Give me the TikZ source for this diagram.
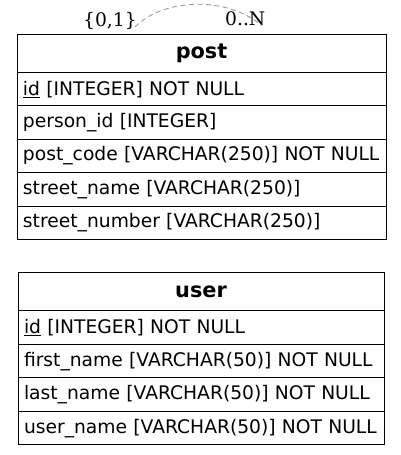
\documentclass[tikz,border=0pt]{standalone}
\usepackage{fontspec}
\usepackage{xcolor}
\usepackage{tikz}
\usetikzlibrary{positioning}
\newfontfamily\tablefont{DejaVu Sans}
\newfontfamily\cardfont{DejaVu Serif}
\definecolor{loop_gray}{HTML}{9a9a9a}

\begin{document}
\begin{tikzpicture}[x=1pt, y=1pt,
    every node/.style={font=\tablefont\fontsize{18.7}{22}\selectfont},
    tablehead/.style={draw, line width=1pt, outer sep=0pt, inner sep=0pt,
      minimum height=37.5pt, anchor=north west, font=\tablefont\bfseries\fontsize{20.8}{24}\selectfont},
    tablerow/.style={draw, line width=1pt, outer sep=0pt, inner xsep=6pt, inner ysep=0pt,
      minimum height=33.4pt, align=left},
    card/.style={anchor=base west, inner sep=0pt, font=\cardfont\fontsize{18.7}{22}\selectfont}]

    \useasboundingbox (0,0) rectangle (401,455);

    % table post
    \node[tablehead, minimum width=369pt] (post) at (17,420) {post};
    \node[tablerow, text width=357pt, below=0pt of post] (post-id) {\underline{id} [INTEGER] NOT NULL};
    \node[tablerow, text width=357pt, below=0pt of post-id] (post-person) {person\_id [INTEGER]};
    \node[tablerow, text width=357pt, below=0pt of post-person] (post-code) {post\_code [VARCHAR(250)] NOT NULL};
    \node[tablerow, text width=357pt, below=0pt of post-code] (post-street) {street\_name [VARCHAR(250)]};
    \node[tablerow, text width=357pt, below=0pt of post-street] (post-number) {street\_number [VARCHAR(250)]};

    % table user
    \node[tablehead, minimum width=366pt, minimum height=38pt] (user) at (18,182) {user};
    \node[tablerow, text width=354pt, minimum height=33.5pt, below=0pt of user] (user-id) {\underline{id} [INTEGER] NOT NULL};
    \node[tablerow, text width=354pt, minimum height=33.5pt, below=0pt of user-id] (user-first) {first\_name [VARCHAR(50)]\ NOT NULL};
    \node[tablerow, text width=354pt, minimum height=33.5pt, below=0pt of user-first] (user-last) {last\_name [VARCHAR(50)]\ NOT NULL};
    \node[tablerow, text width=354pt, minimum height=33.5pt, below=0pt of user-last] (user-name) {user\_name [VARCHAR(50)]\ NOT NULL};

    % self relation on post
    \node[card] (card-one) at (83,428.5) {\{0,1\}};
    \node[card] (card-many) at (225,429) {0..N};
    \coordinate (loop-start) at (135,428);
    \coordinate (loop-end) at (261,430);
    \draw[loop_gray, line width=0.9pt, dash pattern=on 5pt off 3.5pt]
      (loop-start) .. controls (165,458) and (228,458) .. (loop-end);

\end{tikzpicture}
\end{document}
